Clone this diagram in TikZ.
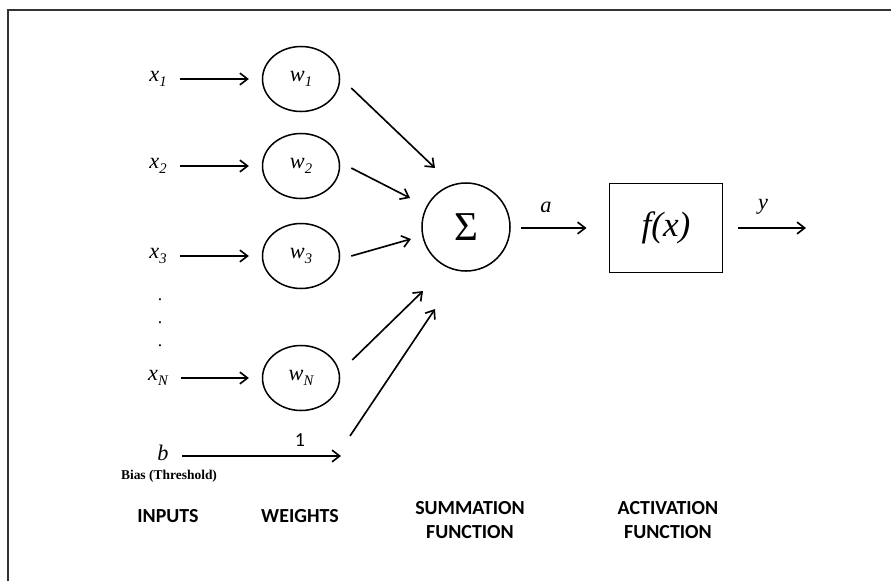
\documentclass[tikz,border=0pt]{standalone}
\usepackage{fontspec}
\setmainfont{Liberation Serif}
\newfontfamily\capfont{Carlito}
\usetikzlibrary{arrows.meta,shapes.geometric}
\newcommand{\low}[1]{\raisebox{-0.45ex}{\fontsize{12.5}{12.5}\selectfont #1}}

\begin{document}
\begin{tikzpicture}[x=0.03cm,y=-0.03cm,
  arr/.style={-{Straight Barb[length=6.5pt,width=10pt]},line width=1.4pt},
  ilbl/.style={font=\fontsize{19}{19}\selectfont\itshape},
  wnode/.style={draw,ellipse,line width=1.3pt,minimum width=2.31cm,minimum height=1.95cm,font=\fontsize{19}{19}\selectfont\itshape},
  captxt/.style={font=\capfont\bfseries\fontsize{17}{20.5}\selectfont,align=center}]
\useasboundingbox (0,0) rectangle (891,581);
\draw[line width=1.6pt,black!80] (8,581) -- (8,10) -- (891,10);
% inputs and weights
\foreach \i/\y in {1/79,2/166,3/256,N/378}{
  \node[wnode] (w\i) at (301,\y) {w\low{\i}};
  \node[ilbl] (x\i) at (158,\y) {x\low{\i}};
  \draw[arr,shorten <=8pt,shorten >=11pt] (x\i.east |- w\i) -- (w\i.west);
}
\foreach \n/\y in {1/300,2/323,3/346}
  \node[font=\fontsize{15}{15}\selectfont] (d\n) at (160,\y) {.};
% bias
\node[ilbl] (b) at (163,453) {b};
\node[font=\fontsize{11.5}{11.5}\selectfont\bfseries] (bias) at (169,476) {Bias (Threshold)};
\coordinate (bend) at (341,456);
\coordinate (bstart) at (350,436);
\draw[arr,shorten <=8pt] (b.east |- bend) -- (bend);
\node[font=\capfont\fontsize{17}{17}\selectfont] (one) at (300,440) {1};
% summation and activation
\node[draw,circle,line width=1.3pt,minimum size=2.64cm,font=\fontsize{35}{35}\selectfont] (sum) at (466,227) {Σ};
\node[draw,rectangle,line width=1.2pt,minimum width=3.39cm,minimum height=2.67cm,font=\fontsize{30}{30}\selectfont\itshape] (act) at (666,228) {f(x)};
\foreach \i/\sx/\sy/\tx/\ty in {1/11/9/-31/-59,2/11/2/-56/-29,3/11/0/-55/12,N/12/-18/-43/64}
  \draw[arr] ([shift={(\sx,\sy)}]w\i.east) -- ([shift={(\tx,\ty)}]sum.center);
\draw[arr] (bstart) -- ([shift={(-31,82)}]sum.center);
\draw[arr,shorten <=9pt,shorten >=19pt] (sum.east |- act) -- (act.west);
\node[ilbl] (alab) at (546,207) {a};
\coordinate (out) at (806,228);
\draw[arr,shorten <=13pt] (act.east) -- (out);
\node[ilbl] (ylab) at (763,207) {y};
% captions
\node[captxt] (inputs) at (168,516) {INPUTS};
\node[captxt] (weights) at (300,516) {WEIGHTS};
\node[captxt] (sumcap) at (470,520) {SUMMATION\\FUNCTION};
\node[captxt] (actcap) at (668,520) {ACTIVATION\\FUNCTION};
\end{tikzpicture}
\end{document}
